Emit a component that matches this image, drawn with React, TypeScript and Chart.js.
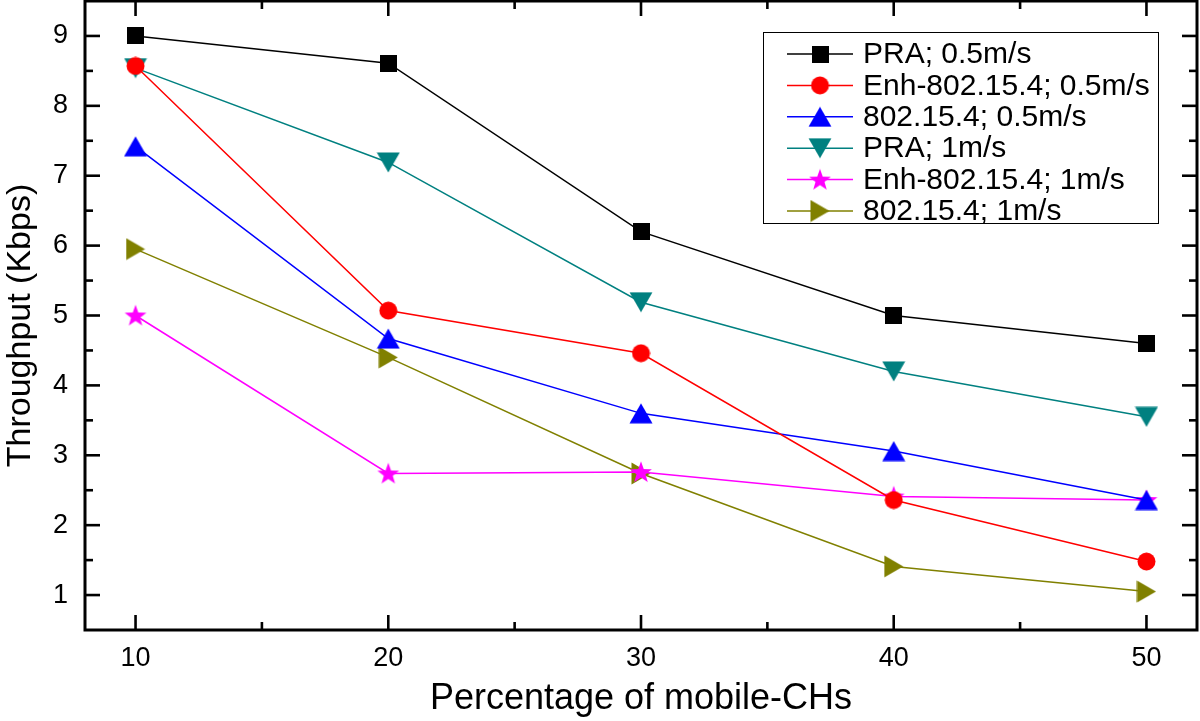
import { useEffect, useRef } from 'react';
import { Chart, registerables } from 'chart.js';

Chart.register(...registerables);

const xValues = [10, 20, 30, 40, 50];
const xTickValues = [10, 20, 30, 40, 50];
const xMinorTicks = [15, 25, 35, 45];
const yTickValues = [1, 2, 3, 4, 5, 6, 7, 8, 9];
const yMinorTicks = [1.5, 2.5, 3.5, 4.5, 5.5, 6.5, 7.5, 8.5];

const praSlow = [9.0, 8.61, 6.2, 5.0, 4.6];
const enhSlow = [8.57, 5.07, 4.46, 2.36, 1.48];
const ieeeSlow = [7.42, 4.67, 3.6, 3.06, 2.36];
const praFast = [8.54, 7.19, 5.19, 4.2, 3.55];
const enhFast = [5.0, 2.74, 2.76, 2.41, 2.36];
const ieeeFast = [5.95, 4.4, 2.74, 1.41, 1.05];

const seriesLabels = [
  'PRA; 0.5m/s',
  'Enh-802.15.4; 0.5m/s',
  '802.15.4; 0.5m/s',
  'PRA; 1m/s',
  'Enh-802.15.4; 1m/s',
  '802.15.4; 1m/s',
];
const seriesValues = [praSlow, enhSlow, ieeeSlow, praFast, enhFast, ieeeFast];
const seriesColors = ['#000000', '#ff0000', '#0000ff', '#008080', '#ff00ff', '#808000'];
const seriesMarkers = ['square', 'circle', 'triUp', 'triDown', 'star', 'triRight'];

const xTitle = 'Percentage of mobile-CHs';
const yTitle = 'Throughput (Kbps)';
const FONT = "'Liberation Sans', Arial, sans-serif";

function makeMarker(kind: string, color: string): HTMLCanvasElement {
  const c = document.createElement('canvas');
  let w = 18, h = 18;
  if (kind === 'square') { w = 17; h = 17; }
  if (kind === 'circle') { w = 19; h = 19; }
  if (kind === 'triUp' || kind === 'triDown') { w = 24; h = 21; }
  if (kind === 'triRight') { w = 20; h = 23; }
  if (kind === 'star') { w = 24; h = 24; }
  c.width = w;
  c.height = h;
  const ctx = c.getContext('2d')!;
  ctx.fillStyle = color;
  ctx.beginPath();
  if (kind === 'square') {
    ctx.rect(0, 0, w, h);
  } else if (kind === 'circle') {
    ctx.arc(w / 2, h / 2, 9, 0, Math.PI * 2);
  } else if (kind === 'triUp') {
    ctx.moveTo(w / 2, 0.5);
    ctx.lineTo(w - 0.5, h - 0.5);
    ctx.lineTo(0.5, h - 0.5);
  } else if (kind === 'triDown') {
    ctx.moveTo(0.5, 0.5);
    ctx.lineTo(w - 0.5, 0.5);
    ctx.lineTo(w / 2, h - 0.5);
  } else if (kind === 'triRight') {
    ctx.moveTo(0.5, 0.5);
    ctx.lineTo(w - 0.5, h / 2);
    ctx.lineTo(0.5, h - 0.5);
  } else if (kind === 'star') {
    const cx = w / 2, cy = h / 2 + 0.8;
    const R = 11.5, r = 4.7;
    for (let i = 0; i < 10; i++) {
      const ang = -Math.PI / 2 + (i * Math.PI) / 5;
      const rad = i % 2 === 0 ? R : r;
      const px = cx + Math.cos(ang) * rad;
      const py = cy + Math.sin(ang) * rad;
      if (i === 0) ctx.moveTo(px, py);
      else ctx.lineTo(px, py);
    }
  }
  ctx.closePath();
  ctx.fill();
  return c;
}

export default function App() {
  const canvasRef = useRef<HTMLCanvasElement | null>(null);

  useEffect(() => {
    document.body.style.margin = '0';
    const canvas = canvasRef.current;
    if (!canvas) return;
    const markers = seriesMarkers.map((m, i) => makeMarker(m, seriesColors[i]));

    const framePlugin = {
      id: 'frameTicks',
      beforeDatasetsDraw(chart: any) {
        const { ctx, chartArea } = chart;
        const { left, right, top, bottom } = chartArea;
        const xs = chart.scales.x;
        const ys = chart.scales.y;
        ctx.save();
        ctx.strokeStyle = '#000';
        ctx.lineWidth = 2.6;
        ctx.lineCap = 'butt';
        const tick = (x1: number, y1: number, x2: number, y2: number) => {
          ctx.beginPath();
          ctx.moveTo(x1, y1);
          ctx.lineTo(x2, y2);
          ctx.stroke();
        };
        xTickValues.forEach((v) => {
          const px = xs.getPixelForValue(v);
          tick(px, bottom, px, bottom - 15);
          tick(px, top, px, top + 15);
        });
        xMinorTicks.forEach((v) => {
          const px = xs.getPixelForValue(v);
          tick(px, bottom, px, bottom - 8);
          tick(px, top, px, top + 8);
        });
        yTickValues.forEach((v) => {
          const py = ys.getPixelForValue(v);
          tick(left, py, left + 15, py);
          tick(right, py, right - 15, py);
        });
        yMinorTicks.forEach((v) => {
          const py = ys.getPixelForValue(v);
          tick(left, py, left + 8, py);
          tick(right, py, right - 8, py);
        });
        ctx.lineWidth = 3;
        ctx.strokeRect(left, top, right - left, bottom - top);
        ctx.restore();
      },
      afterDraw(chart: any) {
        const { ctx, chartArea } = chart;
        ctx.save();
        ctx.translate(21, (chartArea.top + chartArea.bottom) / 2 + 10);
        ctx.rotate(-Math.PI / 2);
        ctx.font = `34px ${FONT}`;
        ctx.fillStyle = '#000';
        ctx.textAlign = 'center';
        ctx.textBaseline = 'middle';
        ctx.fillText(yTitle, 0, 0);
        ctx.restore();
      },
    };

    const legendPlugin = {
      id: 'boxLegend',
      afterDatasetsDraw(chart: any) {
        const { ctx, chartArea } = chart;
        const L = chartArea.right - 434;
        const R = chartArea.right - 39;
        const T = chartArea.top + 31;
        const B = chartArea.top + 222;
        ctx.save();
        ctx.fillStyle = '#fff';
        ctx.fillRect(L, T, R - L, B - T);
        ctx.strokeStyle = '#000';
        ctx.lineWidth = 1;
        ctx.strokeRect(Math.round(L) + 0.5, Math.round(T) + 0.5, R - L, B - T);
        ctx.font = `30px ${FONT}`;
        ctx.textBaseline = 'middle';
        ctx.textAlign = 'left';
        seriesLabels.forEach((label, i) => {
          const y = T + 22 + i * 31.4;
          ctx.strokeStyle = seriesColors[i];
          ctx.lineWidth = 1.5;
          ctx.beginPath();
          ctx.moveTo(L + 24, y);
          ctx.lineTo(L + 90, y);
          ctx.stroke();
          const m = markers[i];
          ctx.drawImage(m, L + 57 - m.width / 2, y - m.height / 2);
          ctx.fillStyle = '#000';
          ctx.fillText(label, L + 100, y + 1);
        });
        ctx.restore();
      },
    };

    const zeroPad = (scale: any) => {
      scale.paddingTop = 0;
      scale.paddingBottom = 0;
      scale.paddingLeft = 0;
      scale.paddingRight = 0;
    };

    const chart = new Chart(canvas, {
      type: 'line',
      data: {
        datasets: seriesValues.map((vals, i) => ({
          label: seriesLabels[i],
          data: vals.map((v, j) => ({ x: xValues[j], y: v })),
          borderColor: seriesColors[i],
          backgroundColor: seriesColors[i],
          borderWidth: 1.5,
          tension: 0,
          pointStyle: markers[i] as any,
          pointRadius: 10,
          pointHoverRadius: 10,
          fill: false,
        })),
      },
      options: {
        animation: false,
        responsive: false,
        events: [],
        layout: { autoPadding: false, padding: { left: 0, top: 1, right: 3, bottom: 0 } },
        plugins: {
          legend: { display: false },
          tooltip: { enabled: false },
        },
        scales: {
          x: {
            type: 'linear',
            min: 8,
            max: 52,
            grid: { display: false, drawTicks: false },
            border: { display: false },
            afterBuildTicks: (scale: any) => {
              scale.ticks = xTickValues.map((v) => ({ value: v }));
            },
            afterFit: (scale: any) => {
              scale.height = 91;
              zeroPad(scale);
            },
            ticks: {
              autoSkip: false,
              maxRotation: 0,
              minRotation: 0,
              padding: 12,
              color: '#000',
              font: { family: FONT, size: 27 },
            },
            title: {
              display: true,
              text: xTitle,
              color: '#000',
              font: { family: FONT, size: 36, lineHeight: 1.2 },
              padding: { top: 0, bottom: 0 },
            },
          },
          y: {
            type: 'linear',
            min: 0.5,
            max: 9.5,
            grid: { display: false, drawTicks: false },
            border: { display: false },
            afterBuildTicks: (scale: any) => {
              scale.ticks = yTickValues.map((v) => ({ value: v }));
            },
            afterFit: (scale: any) => {
              scale.width = 85;
              zeroPad(scale);
            },
            ticks: {
              autoSkip: false,
              padding: 17,
              color: '#000',
              font: { family: FONT, size: 27 },
            },
          },
        },
      },
      plugins: [framePlugin, legendPlugin],
    });

    return () => {
      chart.destroy();
    };
  }, []);

  return (
    <div style={{ width: 1200, height: 721, position: 'relative', background: '#fff' }}>
      <canvas ref={canvasRef} width={1200} height={721} style={{ display: 'block' }} />
    </div>
  );
}
